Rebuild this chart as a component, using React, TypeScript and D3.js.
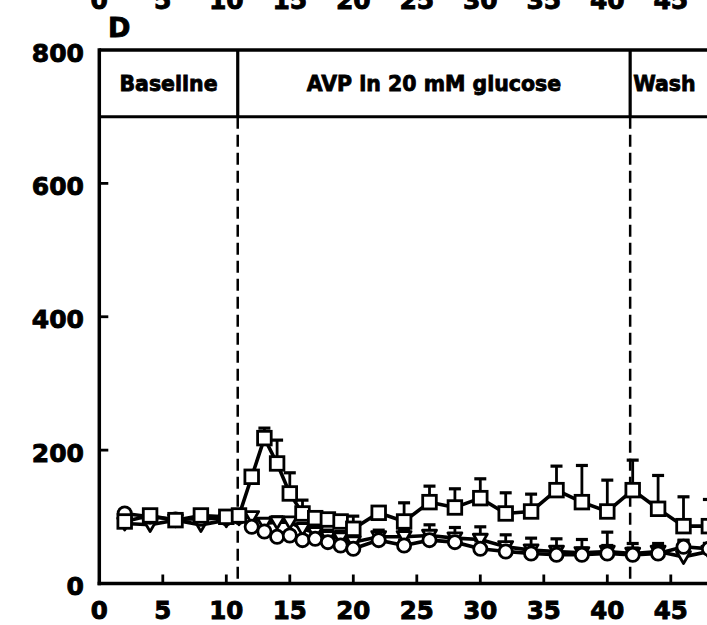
import React from "react";
import * as d3 from "d3";

const timePoints = [2, 4, 6, 8, 10, 11, 12, 13, 14, 15, 16, 17, 18, 19, 20, 22, 24, 26, 28, 30, 32, 34, 36, 38, 40, 42, 44, 46, 48];

const squareValues = [93, 102, 95, 102, 100, 102, 160, 218, 180, 135, 105, 98, 96, 93, 82, 106, 93, 122, 114, 128, 105, 108, 140, 122, 108, 140, 112, 86, 86];
const squareErrors = [0, 0, 0, 0, 0, 0, 8, 15, 35, 31, 20, 8, 5, 8, 19, 5, 28, 24, 28, 29, 31, 26, 36, 55, 47, 45, 50, 44, 40];

const circleValues = [105, 100, 96, 97, 98, 100, 85, 78, 70, 72, 65, 67, 62, 57, 52, 65, 57, 65, 62, 52, 48, 45, 43, 43, 45, 43, 45, 55, 52];
const circleErrors = [0, 0, 0, 0, 0, 0, 4, 5, 6, 6, 6, 6, 6, 6, 8, 6, 8, 10, 12, 12, 10, 10, 10, 10, 12, 10, 8, 10, 8];

const triangleValues = [90, 88, 95, 88, 95, 98, 100, 90, 92, 92, 82, 76, 70, 68, 62, 70, 70, 72, 68, 66, 55, 50, 48, 46, 48, 45, 48, 40, 48];
const triangleErrors = [0, 0, 0, 0, 0, 0, 0, 5, 8, 6, 8, 9, 10, 10, 13, 10, 10, 16, 16, 19, 18, 18, 19, 20, 29, 15, 12, 24, 12];

const xTicks = [0, 5, 10, 15, 20, 25, 30, 35, 40, 45];
const yTicks = [0, 200, 400, 600, 800];
const innerYTicks = [200, 400, 600];

const phaseBounds = [10.9, 41.8];
const phaseLabels = ["Baseline", "AVP in 20 mM glucose", "Wash"];
const bandRange = [700, 800];
const panelLetter = "D";

const FONT = "'DejaVu Sans', 'Liberation Sans', Arial, sans-serif";

export default function App() {
  const W = 707;
  const H = 625;
  const x = d3.scaleLinear().domain([0, 50]).range([99.3, 99.3 + 12.7 * 50]);
  const y = d3.scaleLinear().domain([0, 800]).range([583.5, 50]);
  const xLeft = x(0);
  const xRight = W + 5;

  const line = d3
    .line<[number, number]>()
    .x((d) => x(d[0]))
    .y((d) => y(d[1]));

  const mk = (vals: number[]) => timePoints.map((t, i) => [t, vals[i]] as [number, number]);

  const errBars = (vals: number[], errs: number[], key: string) =>
    timePoints.map((t, i) =>
      errs[i] > 0 ? (
        <g key={key + i}>
          <line x1={x(t)} x2={x(t)} y1={y(vals[i])} y2={y(vals[i] + errs[i])} stroke="#000" strokeWidth={2.8} />
          <line x1={x(t) - 6} x2={x(t) + 6} y1={y(vals[i] + errs[i])} y2={y(vals[i] + errs[i])} stroke="#000" strokeWidth={3.2} />
        </g>
      ) : null
    );

  const triPath = (cx: number, cy: number) => {
    const s = 7;
    return `M${cx - s},${cy - s * 0.75} L${cx + s},${cy - s * 0.75} L${cx},${cy + s * 0.95} Z`;
  };

  const bandTop = y(bandRange[1]);
  const bandBottom = y(bandRange[0]);
  const bandEdges = [xLeft, x(phaseBounds[0]), x(phaseBounds[1])];

  const bold = { fontFamily: FONT, fontWeight: "bold" as const, fill: "#000", stroke: "#000", strokeWidth: 0.9 };

  return (
    <svg width={W} height={H} style={{ position: "absolute", left: 0, top: 0, background: "#fff" }}>
      <rect x={0} y={0} width={W} height={H} fill="#fff" />
      {/* cut-off tick labels from the panel above */}
      {xTicks.map((t) => (
        <text key={"top" + t} x={x(t)} y={9} textAnchor="middle" fontSize={25} {...bold}>
          {t}
        </text>
      ))}
      <text x={108} y={37} fontSize={27} {...bold}>
        {panelLetter}
      </text>

      {/* y tick labels */}
      {yTicks.map((t) => (
        <text key={"y" + t} x={84} y={y(t) + 3} textAnchor="end" dominantBaseline="central" fontSize={25} {...bold}>
          {t}
        </text>
      ))}
      {/* x tick labels */}
      {xTicks.map((t) => (
        <text key={"x" + t} x={x(t)} y={619} textAnchor="middle" fontSize={24.5} {...bold}>
          {t}
        </text>
      ))}

      {/* phase band */}
      <line x1={xLeft} x2={xRight} y1={bandTop} y2={bandTop} stroke="#000" strokeWidth={3.5} />
      <line x1={xLeft} x2={xRight} y1={bandBottom} y2={bandBottom} stroke="#000" strokeWidth={3} />
      {phaseBounds.map((b) => (
        <line key={"pb" + b} x1={x(b)} x2={x(b)} y1={bandTop} y2={bandBottom} stroke="#000" strokeWidth={3.2} />
      ))}
      {phaseLabels.map((lab, i) => {
        const left = bandEdges[i];
        const right = i < 2 ? bandEdges[i + 1] : null;
        const cy = (bandTop + bandBottom) / 2 + 1;
        return right !== null ? (
          <text key={lab} x={(left + right) / 2} y={cy} textAnchor="middle" dominantBaseline="central" fontSize={20.5} {...bold} strokeWidth={0.8}>
            {lab}
          </text>
        ) : (
          <text key={lab} x={left + 3} y={cy} textAnchor="start" dominantBaseline="central" fontSize={20.5} {...bold} strokeWidth={0.8}>
            {lab}
          </text>
        );
      })}

      {/* dashed phase lines */}
      {phaseBounds.map((b) => (
        <line key={"dl" + b} x1={x(b)} x2={x(b)} y1={bandBottom} y2={y(0)} stroke="#000" strokeWidth={2.5} strokeDasharray="12 6" />
      ))}

      {/* axes */}
      <line x1={xLeft} x2={xLeft} y1={bandTop - 1.7} y2={y(0) + 1.7} stroke="#000" strokeWidth={3.5} />
      <line x1={xLeft - 1.7} x2={xRight} y1={y(0)} y2={y(0)} stroke="#000" strokeWidth={3.5} />
      {innerYTicks.map((t) => (
        <line key={"yt" + t} x1={xLeft} x2={xLeft + 9} y1={y(t)} y2={y(t)} stroke="#000" strokeWidth={2.8} />
      ))}
      {xTicks.slice(1).map((t) => (
        <line key={"xt" + t} x1={x(t)} x2={x(t)} y1={y(0)} y2={y(0) - 9} stroke="#000" strokeWidth={2.8} />
      ))}

      {/* triangles series */}
      <path d={line(mk(triangleValues)) || ""} fill="none" stroke="#000" strokeWidth={3.6} />
      {errBars(triangleValues, triangleErrors, "te")}
      {/* circles series */}
      <path d={line(mk(circleValues)) || ""} fill="none" stroke="#000" strokeWidth={3.6} />
      {errBars(circleValues, circleErrors, "ce")}
      {/* squares series */}
      <path d={line(mk(squareValues)) || ""} fill="none" stroke="#000" strokeWidth={3.6} />
      {errBars(squareValues, squareErrors, "se")}

      {timePoints.map((t, i) => (
        <path key={"tm" + i} d={triPath(x(t), y(triangleValues[i]))} fill="#fff" stroke="#000" strokeWidth={2.8} strokeLinejoin="round" />
      ))}
      {timePoints.map((t, i) => (
        <circle key={"cm" + i} cx={x(t)} cy={y(circleValues[i])} r={6.6} fill="#fff" stroke="#000" strokeWidth={2.8} />
      ))}
      {timePoints.map((t, i) => (
        <rect key={"sm" + i} x={x(t) - 6.8} y={y(squareValues[i]) - 6.8} width={13.6} height={13.6} fill="#fff" stroke="#000" strokeWidth={2.8} />
      ))}
    </svg>
  );
}
